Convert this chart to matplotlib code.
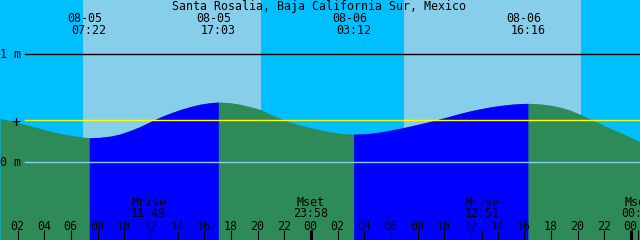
import matplotlib
matplotlib.use("Agg")
import matplotlib.pyplot as plt
import matplotlib.transforms as mtransforms
import numpy as np

title = "Santa Rosalia, Baja California Sur, Mexico"

# Tide curve: hours since 08-05 00:00, level in metres
curve_hours = [0.675, 1.4, 2.175, 2.9, 3.675, 4.4, 5.175, 6.2, 6.9, 7.367,
               8.175, 9.0, 9.675, 10.4, 11.175, 12.15, 12.8, 13.425, 14.2, 14.925,
               15.7, 16.425, 17.05, 17.8, 18.675, 19.5, 20.25, 21.1, 21.9, 22.5,
               23.175, 23.9, 24.675, 25.4, 26.175, 26.7, 27.2, 27.8, 28.425, 29.2,
               29.925, 30.9, 31.5, 32.175, 32.8, 33.375, 34.3, 35.175, 35.9, 36.675,
               37.4, 38.175, 39.2, 40.267, 41.1, 41.925, 42.7, 43.425, 44.3, 45.15,
               45.8, 46.425, 47.2, 47.925, 48.675]
curve_levels = [0.406, 0.386, 0.363, 0.339, 0.314, 0.290, 0.268, 0.245, 0.233, 0.227,
                0.231, 0.243, 0.262, 0.292, 0.330, 0.388, 0.424, 0.454, 0.488, 0.514,
                0.537, 0.551, 0.557, 0.553, 0.537, 0.513, 0.486, 0.438, 0.396, 0.370,
                0.345, 0.322, 0.301, 0.282, 0.268, 0.263, 0.261, 0.263, 0.268, 0.281,
                0.297, 0.320, 0.336, 0.356, 0.374, 0.392, 0.422, 0.452, 0.474, 0.494,
                0.511, 0.525, 0.539, 0.545, 0.541, 0.529, 0.509, 0.483, 0.438, 0.388,
                0.352, 0.316, 0.275, 0.236, 0.192]

tide_dates = ["08-05", "08-05", "08-06", "08-06"]
tide_times = ["07:22", "17:03", "03:12", "16:16"]
tide_kinds = ["low", "high", "low", "high"]

moon_labels = ["Mrise", "Mset", "Mrise", "Mset"]
moon_dates = ["08-05", "08-05", "08-06", "08-07"]
moon_times = ["11:49", "23:58", "12:51", "00:33"]

sunrise_hours = [6.9, 30.97]
sunset_hours = [20.25, 44.25]

ref_level = 0.388
tick_hours = list(range(2, 49, 2))
x_range = (0.675, 48.675)
y_range = (-0.717, 1.499)

NIGHT = "#00BFFF"
DAY = "#87CEEB"
FALL = "#2E8B57"
RISE = "#0000FF"
FONT = dict(family="DejaVu Sans Mono", size=8.4, color="black")


def to_hours(date, time):
    day = int(date.split("-")[1])
    hh, mm = time.split(":")
    return (day - 5) * 24 + int(hh) + int(mm) / 60.0


W, H = 640, 240
fig = plt.figure(figsize=(6.4, 2.4), dpi=100)
fig.patch.set_facecolor(NIGHT)
ax = fig.add_axes([0, 0, 1, 1])
ax.set_xlim(*x_range)
ax.set_ylim(*y_range)
ax.axis("off")

bt = mtransforms.blended_transform_factory(ax.transData, ax.transAxes)


def fy(py):
    return 1 - py / H


# day shading
for sr, ss in zip(sunrise_hours, sunset_hours):
    ax.axvspan(sr, ss, color=DAY, lw=0, zorder=0)

ch = np.array(curve_hours)
cl = np.array(curve_levels)
ax.fill_between(ch, y_range[0], cl, color=FALL, lw=0, zorder=1)

tide_h = [to_hours(d, t) for d, t in zip(tide_dates, tide_times)]
for i in range(len(tide_h) - 1):
    if tide_kinds[i] == "low" and tide_kinds[i + 1] == "high":
        m = (ch >= tide_h[i] - 0.01) & (ch <= tide_h[i + 1] + 0.01)
        ax.fill_between(ch[m], y_range[0], cl[m], color=RISE, lw=0, zorder=2)

# horizontal reference lines
x0 = 25 / W
ax.axhline(1.0, xmin=x0, color="black", lw=1.0, zorder=3)
ax.axhline(0.0, xmin=x0, color=DAY, lw=1.0, zorder=3)
ax.axhline(ref_level, xmin=x0, color="#FFFF00", lw=1.0, zorder=3)

ax.text(0.5 / W, fy(58.3), "1 m", transform=ax.transAxes, ha="left", va="baseline", **FONT)
ax.text(0.5 / W, fy(166.5), "0 m", transform=ax.transAxes, ha="left", va="baseline", **FONT)
ax.text(16 / W, fy(126.8), "+", transform=ax.transAxes, ha="center", va="baseline",
        family="DejaVu Sans Mono", size=11, color="black")

# title
ax.text(319 / W, fy(10), title, transform=ax.transAxes, ha="center", va="baseline", **FONT)

# tide event labels
px_per_h = W / (x_range[1] - x_range[0])
for d, t, h in zip(tide_dates, tide_times, tide_h):
    ax.text(h - 4.3 / px_per_h, fy(22), d, transform=bt, ha="center", va="baseline", **FONT)
    ax.text(h, fy(34), t, transform=bt, ha="center", va="baseline", **FONT)

# moon events
for lab, d, t in zip(moon_labels, moon_dates, moon_times):
    h = to_hours(d, t)
    ax.text(h, fy(206), lab, transform=bt, ha="center", va="baseline", **FONT)
    ax.text(h, fy(217.3), t, transform=bt, ha="center", va="baseline", **FONT)
    ax.vlines(h, 0, 10 / H, transform=bt, color="black", lw=0.8, zorder=5)

# hour ticks
for h in tick_hours:
    lw = 2.2 if h % 24 == 0 else 0.8
    ax.vlines(h, 0, 10 / H, transform=bt, color="black", lw=lw, zorder=5)
    ax.text(h - 0.5 / px_per_h, fy(229.5), "%02d" % (h % 24), transform=bt,
            ha="center", va="baseline", **FONT)

fig.savefig("out.png", dpi=100, facecolor=NIGHT)
